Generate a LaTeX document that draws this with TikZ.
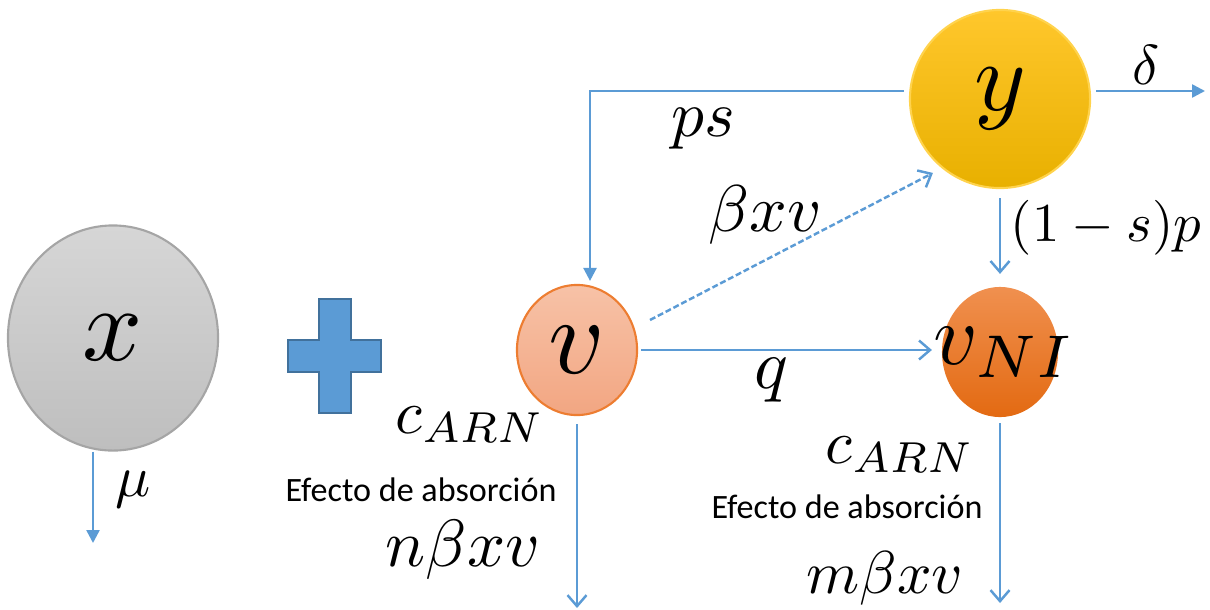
\documentclass[tikz,border=0pt]{standalone}
\usepackage{fontspec}
\setsansfont{Carlito}
\usetikzlibrary{shapes.geometric, arrows.meta}

\definecolor{arrowblue}{HTML}{5B9BD5}
\definecolor{plusblue}{HTML}{5B9BD5}
\definecolor{plusedge}{HTML}{41719C}
\definecolor{xtop}{HTML}{D6D6D6}
\definecolor{xbottom}{HTML}{BEBEBE}
\definecolor{xedge}{HTML}{A5A5A5}
\definecolor{vtop}{HTML}{F7C2A7}
\definecolor{vbottom}{HTML}{F2A682}
\definecolor{vedge}{HTML}{ED7D31}
\definecolor{vnitop}{HTML}{F0904F}
\definecolor{vnibottom}{HTML}{E36A12}
\definecolor{ytop}{HTML}{FFC72C}
\definecolor{ybottom}{HTML}{E8B000}
\definecolor{yedge}{HTML}{FFD34D}

\tikzset{
  flow/.style={draw=arrowblue, line width=0.7pt},
  openarrow/.style={flow, -{Straight Barb[length=1.1mm, width=1.9mm]}},
  fillarrow/.style={flow, -{Triangle[length=1.3mm, width=1.3mm]}},
  compartment/.style={ellipse, inner sep=0pt, line width=0.6pt},
  ratelabel/.style={inner sep=0pt, scale=2},
  notelabel/.style={inner sep=0pt, font=\sffamily\fontsize{9.7}{11}\selectfont},
}

\begin{document}
\begin{tikzpicture}[x=0.01cm, y=-0.01cm]
  \useasboundingbox (0,0) rectangle (1210,609);

  % Compartments
  \node[compartment, minimum width=2.1cm, minimum height=2.25cm,
        top color=xtop, bottom color=xbottom, draw=xedge,
        label={[scale=3]center:$x$}] (x) at (113,338) {};
  \node[compartment, minimum width=1.2cm, minimum height=1.3cm,
        top color=vtop, bottom color=vbottom, draw=vedge,
        label={[scale=3.1]center:$v$}] (v) at (577,350) {};
  \node[compartment, minimum width=1.16cm, minimum height=1.3cm,
        top color=vnitop, bottom color=vnibottom,
        label={[scale=2.45, xshift=0.02cm]center:$v_{NI}$}] (vni) at (1000,352) {};
  \node[compartment, minimum width=1.8cm, minimum height=1.78cm,
        top color=ytop, bottom color=ybottom, draw=yedge,
        label={[scale=2.8]center:$y$}] (y) at (1000,99) {};

  % Plus sign
  \draw[fill=plusblue, draw=plusedge, line width=0.6pt]
    (319,299) -- (351,299) -- (351,340) -- (381,340) -- (381,372) -- (351,372)
    -- (351,413) -- (319,413) -- (319,372) -- (288,372) -- (288,340) -- (319,340) -- cycle;

  % Free ends
  \coordinate (xout) at (93,543);
  \coordinate (vout) at (577,608);
  \coordinate (vniout) at (1000,603);
  \coordinate (yout) at (1205,91);
  \coordinate (psbend) at (590,91);
  \coordinate (betastart) at (650,320);

  % Flows
  \draw[fillarrow] (xout |- x.south) -- (xout);
  \draw[openarrow, shorten <=0.08cm] (v.south) -- (vout);
  \draw[openarrow, shorten <=0.05cm] (vni.south) -- (vniout);
  \draw[openarrow, shorten <=0.03cm, shorten >=0.09cm] (v.east) -- (v.east -| vni.west);
  \draw[openarrow, shorten <=0.09cm, shorten >=0.12cm] (y.south) -- (vni.north);
  \draw[fillarrow, shorten <=0.05cm] (y.east |- yout) -- (yout);
  \draw[fillarrow, shorten <=0.05cm, shorten >=0.03cm] (y.west |- psbend) -- (psbend) -- (psbend |- v.north);
  \draw[openarrow, dash pattern=on 1.7pt off 0.8pt, shorten >=0.1cm] (betastart) -- (y.230);

  % Rates
  \node[ratelabel, scale=0.83] (mu) at (133,490) {$\mu$};
  \node[ratelabel, scale=0.93] (ps) at (703,129) {$ps$};
  \node[ratelabel, scale=0.94] (beta) at (765,215) {$\beta xv$};
  \node[ratelabel] (q) at (771,380) {$q$};
  \node[ratelabel, scale=0.8] (delta) at (1146,65) {$\delta$};
  \node[ratelabel, scale=0.78] (onems) at (1106,228) {$(1-s)p$};
  \node[ratelabel, scale=0.88] (carnv) at (470,425) {$c_{ARN}$};
  \node[notelabel] (absv) at (421,490) {Efecto de absorción};
  \node[ratelabel, scale=0.95] (nbeta) at (463,550) {$n\beta xv$};
  \node[ratelabel, scale=0.88] (carnvni) at (900,455) {$c_{ARN}$};
  \node[notelabel] (absvni) at (847,507) {Efecto de absorción};
  \node[ratelabel, scale=0.86] (mbeta) at (885,578) {$m\beta xv$};
\end{tikzpicture}
\end{document}
